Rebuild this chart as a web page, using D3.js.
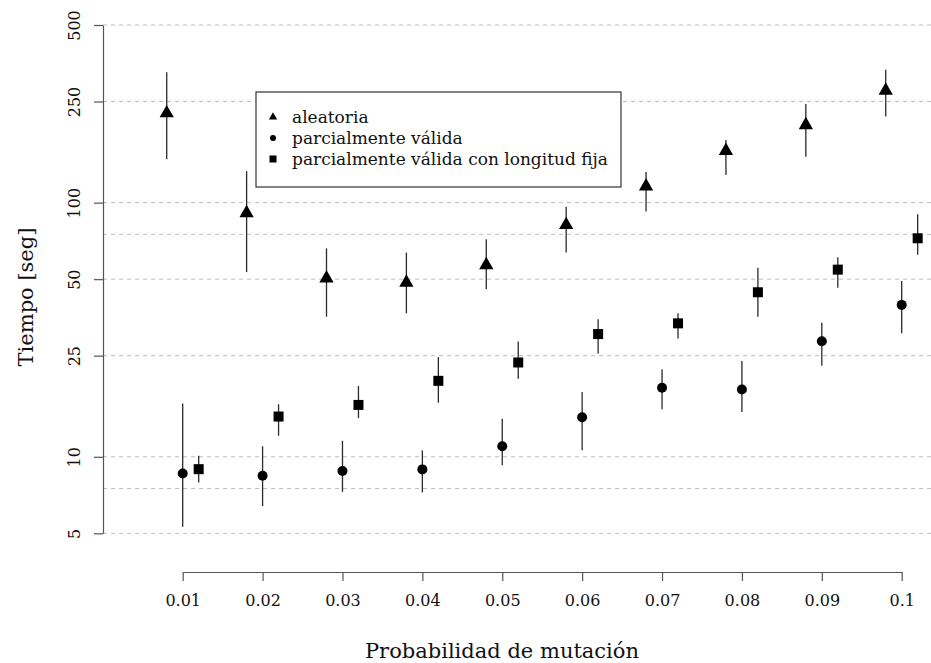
<!DOCTYPE html>
<html>
<head>
<meta charset="utf-8">
<script src="https://cdn.jsdelivr.net/npm/d3@7"></script>
<style>
  body { margin: 0; background: white; }
  text { font-family: 'DejaVu Serif', serif; fill: #111; }
</style>
</head>
<body>
<div id="chart"></div>
<script>
// mutation probabilities (x values)
const probs = [0.01, 0.02, 0.03, 0.04, 0.05, 0.06, 0.07, 0.08, 0.09, 0.1];

// aleatoria: mean and error bar ends
const aleatoria   = [225, 91, 50.4, 48.5, 56.8, 81.7, 116, 160, 202, 276];
const aleatoriaLo = [148, 53.3, 35.6, 36.7, 45.6, 63.6, 92.2, 128.5, 151.7, 218];
const aleatoriaHi = [326, 133, 66.1, 63.6, 71.8, 96.4, 132, 176.5, 244.6, 333];

// parcialmente valida
const parcial   = [8.6, 8.42, 8.79, 8.92, 11.0, 14.3, 18.7, 18.4, 28.5, 39.6];
const parcialLo = [5.3, 6.4, 7.28, 7.24, 9.27, 10.6, 15.4, 15.0, 22.8, 30.6];
const parcialHi = [16.2, 11.0, 11.56, 10.6, 14.1, 18.0, 22.1, 23.8, 33.7, 49.2];

// parcialmente valida con longitud fija
const fija   = [8.94, 14.4, 16.0, 19.9, 23.5, 30.4, 33.5, 44.4, 54.5, 72.4];
const fijaLo = [7.93, 12.1, 14.2, 16.3, 20.3, 25.5, 29.2, 35.6, 46.3, 62.3];
const fijaHi = [10.1, 16.1, 19.0, 24.7, 28.4, 34.8, 36.7, 55.5, 61.0, 90.0];

const yTicks = [5, 10, 25, 50, 100, 250, 500];
const gridValues = [5, 7.5, 10, 25, 50, 75, 100, 250, 500];
const xTicks = ['0.01', '0.02', '0.03', '0.04', '0.05', '0.06', '0.07', '0.08', '0.09', '0.1'];

const seriesNames = ['aleatoria', 'parcialmente válida', 'parcialmente válida con longitud fija'];

let width = 931, height = 663;

let svg = d3.select('#chart')
            .append('svg')
            .attr('width', width)
            .attr('height', height)
            .style('background', 'white');

// scales
let xScale = d3.scaleLinear()
               .domain([0.01, 0.1])
               .range([182.7, 901.7]);

let yScale = d3.scaleLog()
               .domain([5, 500])
               .range([533.3, 25]);

// dashed grid lines
svg.append('g')
   .selectAll('line')
   .data(gridValues)
   .enter()
   .append('line')
   .attr('x1', 103)
   .attr('x2', width)
   .attr('y1', d => yScale(d))
   .attr('y2', d => yScale(d))
   .attr('stroke', '#bdbdbd')
   .attr('stroke-width', 1)
   .attr('stroke-dasharray', '4,4');

// x axis
let xAxis = svg.append('g')
               .attr('transform', 'translate(0, 572)')
               .call(d3.axisBottom(xScale)
                       .tickValues(probs)
                       .tickFormat((d, i) => xTicks[i])
                       .tickSize(9)
                       .tickSizeOuter(0));
xAxis.selectAll('text')
     .attr('y', 23)
     .attr('dy', '0.71em')
     .style('font-size', '16px')
     .style('font-family', 'DejaVu Serif');

// y axis
let yAxis = svg.append('g')
               .attr('transform', 'translate(103, 0)')
               .call(d3.axisLeft(yScale)
                       .tickValues(yTicks)
                       .tickFormat(d3.format('d'))
                       .tickSize(9)
                       .tickSizeOuter(0));
yAxis.selectAll('text')
     .attr('transform', 'rotate(-90)')
     .attr('x', 0)
     .attr('y', -23)
     .attr('dy', 0)
     .style('text-anchor', 'middle')
     .style('font-size', '16px')
     .style('font-family', 'DejaVu Serif');

svg.selectAll('.domain, .tick line').attr('stroke', '#555').attr('stroke-width', 1.2);

// axis titles
svg.append('text')
   .attr('x', 502)
   .attr('y', 658)
   .style('text-anchor', 'middle')
   .style('font-size', '21px')
   .text('Probabilidad de mutación');

svg.append('text')
   .attr('transform', 'translate(33, 297) rotate(-90)')
   .style('text-anchor', 'middle')
   .style('font-size', '21px')
   .text('Tiempo [seg]');

// build point data for each series
function makeSeries(vals, lo, hi, offset, shape) {
    return probs.map((p, i) => ({x: p + offset, y: vals[i], lo: lo[i], hi: hi[i], shape: shape}));
}
let allPoints = [].concat(
    makeSeries(aleatoria, aleatoriaLo, aleatoriaHi, -0.002, 'triangle'),
    makeSeries(parcial, parcialLo, parcialHi, 0, 'circle'),
    makeSeries(fija, fijaLo, fijaHi, 0.002, 'square')
);

// error bars
svg.append('g')
   .selectAll('line')
   .data(allPoints)
   .enter()
   .append('line')
   .attr('x1', d => xScale(d.x))
   .attr('x2', d => xScale(d.x))
   .attr('y1', d => yScale(d.lo))
   .attr('y2', d => yScale(d.hi))
   .attr('stroke', '#2a2a2a')
   .attr('stroke-width', 1.3);

// markers
function drawMarker(g, shape, size) {
    if (shape == 'triangle') {
        g.append('path').attr('d', d3.symbol(d3.symbolTriangle, size.tri)()).attr('fill', 'black');
    } else if (shape == 'circle') {
        g.append('circle').attr('r', size.r).attr('fill', 'black');
    } else {
        g.append('rect')
         .attr('x', -size.sq / 2).attr('y', -size.sq / 2)
         .attr('width', size.sq).attr('height', size.sq)
         .attr('fill', 'black');
    }
}

svg.append('g')
   .selectAll('g')
   .data(allPoints)
   .enter()
   .append('g')
   .attr('transform', d => `translate(${xScale(d.x)}, ${yScale(d.y)})`)
   .each(function(d) { drawMarker(d3.select(this), d.shape, {tri: 88, r: 5, sq: 10}); });

// legend
let legend = svg.append('g').attr('transform', 'translate(256, 92)');
legend.append('rect')
      .attr('width', 365)
      .attr('height', 95)
      .attr('fill', 'white')
      .attr('stroke', '#333')
      .attr('stroke-width', 1.2);

let shapes = ['triangle', 'circle', 'square'];
let legendItem = legend.selectAll('.legend-item')
    .data(seriesNames)
    .enter()
    .append('g')
    .attr('class', 'legend-item')
    .attr('transform', (d, i) => `translate(0, ${25 + i * 21})`);

legendItem.append('g')
    .attr('transform', 'translate(17, 0)')
    .each(function(d, i) { drawMarker(d3.select(this), shapes[i], {tri: 30, r: 3, sq: 7}); });

legendItem.append('text')
    .attr('x', 36)
    .attr('y', 6)
    .style('font-size', '17px')
    .text(d => d);
</script>
</body>
</html>
